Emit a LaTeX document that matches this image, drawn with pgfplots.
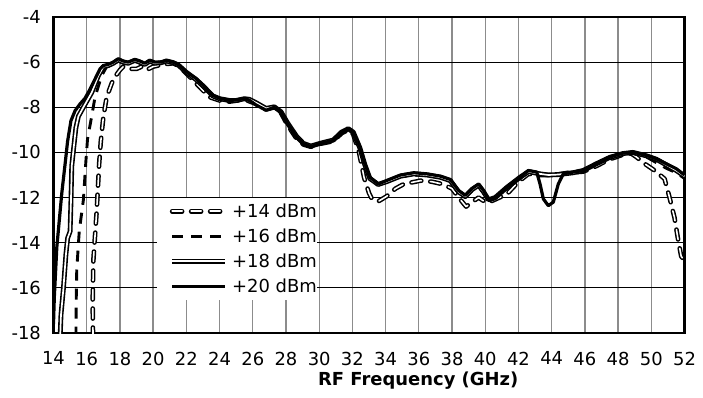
\documentclass[border=0pt]{standalone}
\usepackage{fontspec}
\setmainfont{DejaVu Sans}
\usepackage{pgfplots}
\pgfplotsset{compat=1.18}
\usetikzlibrary{calc}
\pgfplotsset{
 p14/.style={black, line width=1.5bp, double=white, double distance=1.6bp, dash pattern=on 10bp off 9bp, line cap=round, line join=round},
 p16/.style={black, line width=2.9bp, dash pattern=on 11bp off 8bp, line join=round},
 p18/.style={black, line width=1.6bp, double=white, double distance=1.7bp, line join=round},
 p20/.style={black, line width=3.2bp, line join=round},
}
\begin{document}
\fontsize{18}{21.6}\selectfont
\begin{tikzpicture}
\begin{axis}[
 scale only axis, width=631bp, height=316bp,
 xmin=14, xmax=52, ymin=-18, ymax=-4,
 xtick={14,16,...,52}, ytick={-18,-16,...,-4},
 major tick length=0pt,
 xmajorgrids, ymajorgrids,
 x grid style={draw=black!45, line width=1.3bp},
 y grid style={draw=black, line width=1.1bp},
 axis line style={line width=2.8bp},
 tick label style={font=\fontsize{18}{21.6}\selectfont},
 /pgf/number format/assume math mode=true,
 xticklabel style={yshift=-12.7bp},
 yticklabel style={xshift=-6.5bp},
 xlabel={\textbf{RF Frequency (GHz)}},
 xlabel style={at={(axis description cs:0.578,0)}, anchor=base, yshift=-52bp, font=\fontsize{18}{21.6}\selectfont},
 legend style={at={(axis cs:20.23,-12)}, anchor=north west, draw=none, fill=white,
   inner xsep=0pt, inner ysep=1bp, row sep=0pt, column sep=0pt,
   font=\fontsize{18}{21.6}\selectfont,
   nodes={inner xsep=0pt, inner ysep=6bp, text height=13bp, text depth=0bp}},
 legend cell align=left,
 legend image code/.code={\pgfpathmoveto{\pgfpoint{0bp}{0bp}}\pgfpathlineto{\pgfpoint{75bp}{0bp}}\pgfusepath{discard}\draw[#1] (15bp,0bp) -- (68bp,0bp);},
 no markers,
]
\addplot[p14] coordinates {
(16.38,-18.2) (16.36,-16.6) (16.4,-14.8) (16.6,-12.6) (16.75,-10.5) (16.85,-9.5) (17.0,-8.45) (17.2,-7.55) (17.6,-6.75) (18.0,-6.35) (18.2,-6.2) (18.6,-6.3) (19.0,-6.3) (19.3,-6.2) (19.6,-6.35) (20.0,-6.2) (20.6,-6.1) (21.2,-6.05) (21.5,-6.15) (22.0,-6.5) (22.6,-6.95) (23.4,-7.55) (24.0,-7.7) (24.6,-7.75) (25.5,-7.65) (26.2,-7.85) (26.8,-8.1) (27.3,-8.0) (27.7,-8.25) (28.1,-8.8) (28.65,-9.4) (29.05,-9.65) (29.5,-9.75) (30.05,-9.62) (30.85,-9.5) (31.35,-9.15) (31.75,-9.0) (32.05,-9.2) (32.4,-10.0) (32.7,-11.1) (33.0,-11.8) (33.2,-12.1) (33.6,-12.15) (34.05,-11.95) (34.6,-11.6) (35.1,-11.4) (36.1,-11.25) (36.8,-11.3) (37.4,-11.4) (38.0,-11.6) (38.4,-12.0) (38.85,-12.4) (39.2,-12.2) (39.6,-12.0) (40.0,-12.2) (40.4,-12.15) (41.3,-11.85) (42.0,-11.3) (42.6,-10.95) (43.3,-11.0) (44.2,-11.0) (45.0,-10.9) (45.9,-10.85) (46.7,-10.6) (47.5,-10.3) (48.3,-10.1) (48.8,-10.05) (49.1,-10.2) (49.6,-10.5) (50.2,-10.8) (50.8,-11.17) (51.1,-12.0) (51.4,-12.9) (51.6,-13.8) (51.8,-14.6) (52.0,-14.8)
};
\addlegendentry{+14 dBm}
\addplot[p16] coordinates {
(15.35,-18.2) (15.37,-16.5) (15.4,-15.2) (15.55,-13.5) (15.8,-12.1) (15.95,-10.4) (16.05,-9.4) (16.3,-8.4) (16.5,-7.55) (16.9,-6.6) (17.2,-6.2) (17.6,-6.1) (17.9,-5.95) (18.2,-6.05) (18.5,-6.1) (18.9,-5.95) (19.2,-6.05) (19.5,-6.15) (19.8,-6.0) (20.1,-6.05) (20.5,-6.05) (20.8,-5.98) (21.2,-6.05) (21.5,-6.15) (22.0,-6.45) (22.6,-6.8) (23.0,-7.1) (23.6,-7.52) (24.0,-7.65) (24.6,-7.72) (25.0,-7.7) (25.5,-7.63) (25.8,-7.68) (26.2,-7.85) (26.8,-8.08) (27.3,-8.0) (27.7,-8.22) (28.1,-8.75) (28.65,-9.35) (29.05,-9.62) (29.5,-9.75) (30.05,-9.62) (30.85,-9.48) (31.35,-9.12) (31.75,-8.98) (32.05,-9.15) (32.45,-9.85) (32.75,-10.6) (33.05,-11.2) (33.55,-11.45) (34.05,-11.3) (34.9,-11.08) (35.7,-11.0) (36.5,-11.02) (37.3,-11.12) (37.9,-11.3) (38.4,-11.8) (38.8,-12.0) (39.2,-11.7) (39.6,-11.5) (39.9,-11.8) (40.2,-12.15) (40.6,-12.05) (41.3,-11.6) (42.1,-11.15) (42.6,-10.88) (43.3,-10.95) (43.8,-11.02) (44.4,-10.98) (45.3,-10.9) (45.9,-10.82) (46.7,-10.52) (47.5,-10.25) (48.3,-10.08) (48.9,-10.05) (49.7,-10.2) (50.3,-10.45) (50.9,-10.7) (51.5,-10.9) (52.0,-11.15)
};
\addlegendentry{+16 dBm}
\addplot[p18] coordinates {
(14.4,-18.2) (14.45,-17.2) (14.6,-16.0) (14.75,-14.5) (14.85,-13.8) (15.0,-13.5) (15.05,-12.2) (15.1,-10.6) (15.2,-9.9) (15.35,-8.9) (15.5,-8.4) (15.8,-8.0) (16.3,-7.35) (16.7,-6.6) (17.0,-6.2) (17.3,-6.15) (17.6,-6.05) (17.9,-5.9) (18.2,-6.0) (18.5,-6.05) (18.9,-5.92) (19.2,-6.0) (19.5,-6.1) (19.8,-5.95) (20.1,-6.05) (20.5,-6.02) (20.8,-5.95) (21.2,-6.02) (21.5,-6.12) (22.0,-6.45) (22.6,-6.78) (23.0,-7.05) (23.6,-7.5) (24.0,-7.62) (24.6,-7.7) (25.0,-7.7) (25.5,-7.62) (25.8,-7.65) (26.2,-7.8) (26.8,-8.05) (27.3,-7.98) (27.7,-8.2) (28.1,-8.7) (28.65,-9.3) (29.05,-9.6) (29.5,-9.72) (30.05,-9.6) (30.85,-9.45) (31.35,-9.1) (31.75,-8.95) (32.05,-9.1) (32.45,-9.8) (32.75,-10.55) (33.05,-11.15) (33.55,-11.42) (34.05,-11.3) (34.9,-11.05) (35.7,-10.95) (36.5,-11.0) (37.3,-11.1) (37.9,-11.25) (38.4,-11.75) (38.8,-11.95) (39.2,-11.65) (39.6,-11.45) (39.9,-11.75) (40.2,-12.1) (40.6,-12.0) (41.3,-11.55) (42.1,-11.1) (42.6,-10.85) (43.3,-10.95) (43.8,-11.0) (44.4,-10.98) (45.3,-10.9) (45.9,-10.8) (46.7,-10.5) (47.5,-10.22) (48.3,-10.05) (48.9,-10.0) (49.7,-10.15) (50.3,-10.3) (50.9,-10.55) (51.5,-10.8) (52.0,-11.05)
};
\addlegendentry{+18 dBm}
\addplot[p20] coordinates {
(14.0,-17.6) (14.05,-16.4) (14.2,-14.2) (14.35,-13.0) (14.5,-11.8) (14.7,-10.5) (14.85,-9.5) (15.05,-8.6) (15.3,-8.15) (15.6,-7.85) (15.9,-7.6) (16.2,-7.2) (16.5,-6.75) (16.8,-6.3) (17.0,-6.15) (17.3,-6.1) (17.6,-6.0) (17.9,-5.85) (18.2,-5.95) (18.5,-6.0) (18.9,-5.88) (19.2,-5.95) (19.5,-6.05) (19.8,-5.92) (20.1,-6.0) (20.5,-6.0) (20.8,-5.92) (21.2,-6.0) (21.5,-6.1) (22.0,-6.43) (22.6,-6.73) (23.0,-7.02) (23.6,-7.47) (24.0,-7.6) (24.6,-7.69) (25.0,-7.68) (25.5,-7.61) (25.8,-7.69) (26.2,-7.9) (26.8,-8.13) (27.3,-8.0) (27.7,-8.2) (28.1,-8.72) (28.65,-9.32) (29.05,-9.61) (29.5,-9.74) (30.05,-9.6) (30.85,-9.47) (31.35,-9.1) (31.75,-8.95) (32.05,-9.1) (32.45,-9.76) (32.75,-10.5) (33.05,-11.1) (33.55,-11.4) (34.05,-11.25) (34.9,-11.0) (35.7,-10.9) (36.5,-10.95) (37.3,-11.05) (37.9,-11.2) (38.4,-11.69) (38.8,-11.9) (39.2,-11.6) (39.6,-11.4) (39.9,-11.69) (40.2,-12.1) (40.6,-12.0) (41.3,-11.54) (42.1,-11.1) (42.6,-10.8) (43.1,-10.87) (43.3,-11.4) (43.5,-12.06) (43.8,-12.36) (44.1,-12.2) (44.4,-11.4) (44.7,-10.95) (45.3,-10.87) (45.9,-10.8) (46.7,-10.5) (47.5,-10.2) (48.3,-10.03) (48.9,-9.99) (49.7,-10.13) (50.3,-10.28) (50.9,-10.5) (51.5,-10.72) (52.0,-11.0)
};
\addlegendentry{+20 dBm}
\end{axis}
\path ($(current axis.south west)+(-53.5bp,-65bp)$) rectangle ($(current axis.north east)+(18.5bp,17bp)$);
\end{tikzpicture}
\end{document}
